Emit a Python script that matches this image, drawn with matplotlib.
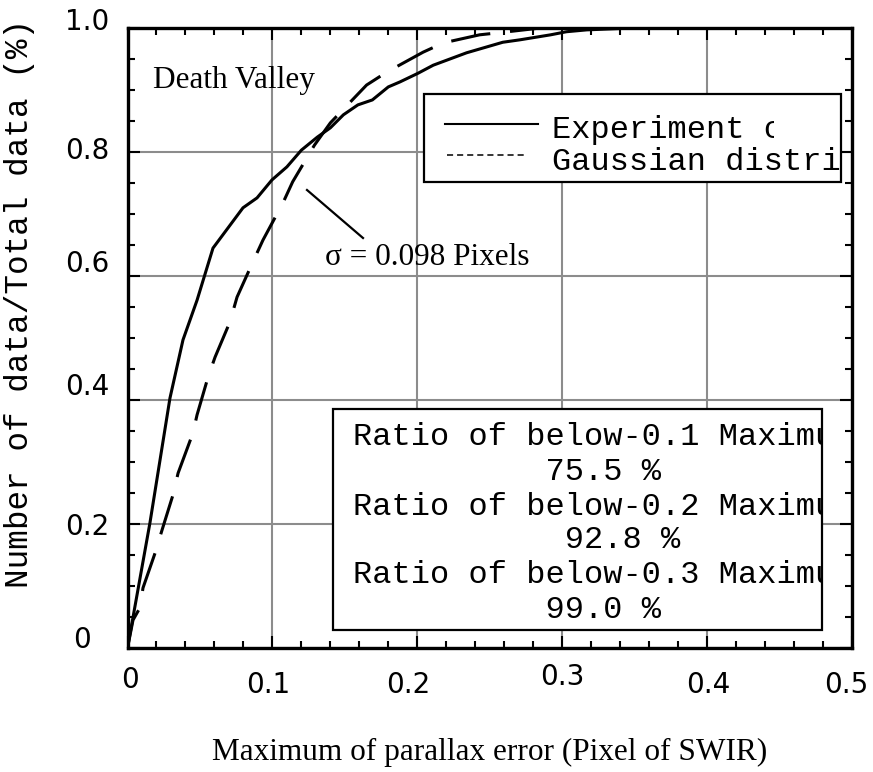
import matplotlib
matplotlib.use('Agg')
import matplotlib.pyplot as plt
from matplotlib.patches import Rectangle
from matplotlib.lines import Line2D
from matplotlib.transforms import Bbox, TransformedBbox
from matplotlib.ticker import MultipleLocator

# ---------------- data ----------------
exp_x = [0, 0.0155, 0.0293, 0.0383, 0.048, 0.059, 0.0797, 0.0894, 0.0997, 0.110,
         0.120, 0.131, 0.140, 0.149, 0.159, 0.169, 0.180, 0.188, 0.2005, 0.211,
         0.234, 0.259, 0.271, 0.292, 0.303, 0.317, 0.349, 0.5]
exp_y = [0, 0.202, 0.403, 0.497, 0.561, 0.645, 0.710, 0.726, 0.755, 0.776,
         0.803, 0.824, 0.839, 0.860, 0.876, 0.884, 0.905, 0.913, 0.927, 0.940,
         0.960, 0.977, 0.981, 0.989, 0.994, 0.997, 1.0, 1.0]

gau_x = [0, 0.0038, 0.0086, 0.0107, 0.019, 0.0238, 0.0314, 0.0349, 0.0452, 0.048,
         0.0556, 0.0604, 0.0707, 0.0756, 0.0866, 0.0935, 0.1073, 0.114, 0.129, 0.140,
         0.165, 0.179, 0.204, 0.218, 0.243, 0.255, 0.285, 0.5]
gau_y = [0, 0.045, 0.065, 0.097, 0.153, 0.190, 0.247, 0.282, 0.347, 0.376,
         0.437, 0.469, 0.526, 0.566, 0.623, 0.658, 0.718, 0.752, 0.811, 0.847,
         0.908, 0.929, 0.961, 0.976, 0.989, 0.992, 1.0, 1.0]

x_ticks = [0, 0.1, 0.2, 0.3, 0.4, 0.5]
x_tick_labels = ['0', '0.1', '0.2', '0.3', '0.4', '0.5']
y_ticks = [0, 0.2, 0.4, 0.6, 0.8, 1.0]
y_tick_labels = ['0', '0.2', '0.4', '0.6', '0.8', '1.0']

legend_labels = ['Experiment curve', 'Gaussian distribution']
thresholds = ['0.1', '0.2', '0.3']
ratios = [75.5, 92.8, 99.0]
sigma = 0.098
site = 'Death Valley'
x_label = 'Maximum of parallax error (Pixel of SWIR)'
y_label = 'Number of data/Total data (%)'

# ---------------- layout ----------------
W, H = 873, 772
fig = plt.figure(figsize=(W / 100, H / 100), dpi=100)
L, R, T, B = 127.5, 852, 28, 648
ax = fig.add_axes([L / W, 1 - B / H, (R - L) / W, (B - T) / H])


def axf(px, py):
    return ((px - L) / (R - L), (B - py) / (B - T))


SANS = 'DejaVu Sans'
SERIF = 'Liberation Serif'
MONO = 'Liberation Mono'

ax.set_xlim(0, 0.5)
ax.set_ylim(0, 1.0)
ax.set_xticks(x_ticks)
ax.set_yticks(y_ticks)
ax.xaxis.set_minor_locator(MultipleLocator(0.02))
ax.yaxis.set_minor_locator(MultipleLocator(0.05))
ax.tick_params(which='both', direction='in', top=True, right=True,
               labelbottom=False, labelleft=False, width=1.5, color='black')
ax.tick_params(which='major', length=8.6)
ax.tick_params(which='minor', length=5)
for s in ax.spines.values():
    s.set_linewidth(2.4)
    s.set_zorder(6)
ax.grid(True, which='major', color='#8c8c8c', lw=1.5, zorder=0)
ax.set_axisbelow(True)

# curves
ax.plot(exp_x, exp_y, color='black', lw=2.2, solid_joinstyle='round', zorder=3)
ax.plot(gau_x, gau_y, color='black', lw=2.2, linestyle=(0, (13, 6.5)),
        dash_capstyle='butt', zorder=3)

# tick labels (manual, to reproduce original placement)
ytl_dx = [-45.5, -40.5, -40.5, -40.5, -40.5, -40.5]
ytl_dy = [0, -11, 5, 4, -7, -2]
for v, lab, dx, dy in zip(y_ticks, y_tick_labels, ytl_dx, ytl_dy):
    ax.annotate(lab, xy=(0, v), xycoords=ax.get_yaxis_transform(),
                xytext=(dx, dy), textcoords='offset pixels',
                ha='center', va='baseline', fontsize=20, family=SANS)
xtl_dx = [2.5, -4, -9, 0, 1, -6]
xtl_dy = [-40, -45, -45, -37, -45, -45]
for v, lab, dx, dy in zip(x_ticks, x_tick_labels, xtl_dx, xtl_dy):
    ax.annotate(lab, xy=(v, 0), xycoords=ax.get_xaxis_transform(),
                xytext=(dx, dy), textcoords='offset pixels',
                ha='center', va='baseline', fontsize=20, family=SANS)

# axis labels
fig.text(490 / W, 1 - 760 / H, x_label, ha='center', va='baseline',
         fontsize=22.5, family=SERIF)
fig.text(20 / W, 1 - 303 / H, y_label, ha='center', va='center',
         rotation=90, fontsize=23.5, family=MONO)

# site label and sigma annotation
ax.text(*axf(153, 88), site, transform=ax.transAxes, ha='left', va='baseline',
        fontsize=22.5, family=SERIF, zorder=5)
ax.text(*axf(325, 265), f'\u03c3 = {sigma} Pixels', transform=ax.transAxes,
        ha='left', va='baseline', fontsize=22.5, family=SERIF, zorder=5)
p1, p2 = axf(307, 190), axf(363, 238)
ax.plot([p1[0], p2[0]], [p1[1], p2[1]], transform=ax.transAxes,
        color='black', lw=1.6, zorder=5)

# legend box
lx0, ly0 = axf(424, 182)
lx1, ly1 = axf(841, 94)
ax.add_patch(Rectangle((lx0, ly0), lx1 - lx0, ly1 - ly0, transform=ax.transAxes,
                       facecolor='white', edgecolor='black', lw=1.6, zorder=4))
a, b = axf(445, 124), axf(538, 124)
ax.add_line(Line2D([a[0], b[0]], [a[1], b[1]], transform=ax.transAxes,
                   color='black', lw=1.5, zorder=5))
a, b = axf(447, 155), axf(525, 155)
ax.add_line(Line2D([a[0], b[0]], [a[1], b[1]], transform=ax.transAxes,
                   color='black', lw=1.1, linestyle=(0, (4, 2.6)),
                   dash_capstyle='butt', zorder=5))
leg_base = [138, 170]
leg_clip = [774, 841]
for lab, yb, xc in zip(legend_labels, leg_base, leg_clip):
    t = ax.text(*axf(552, yb), lab, transform=ax.transAxes, ha='left',
                va='baseline', fontsize=23, family=MONO, zorder=5)
    cx0, cy0 = axf(424, 182)
    cx1, cy1 = axf(xc, 94)
    t.set_clip_box(TransformedBbox(Bbox.from_extents(cx0, cy0, cx1, cy1),
                                   ax.transAxes))
    t.set_clip_on(True)

# ratio box
rx0, ry0 = axf(333, 630)
rx1, ry1 = axf(822, 409)
ax.add_patch(Rectangle((rx0, ry0), rx1 - rx0, ry1 - ry0, transform=ax.transAxes,
                       facecolor='white', edgecolor='black', lw=1.6, zorder=4))
clip = TransformedBbox(Bbox.from_extents(rx0, ry0, rx1, ry1), ax.transAxes)
lines = []
pads = [10, 11, 10]
for thr, r, pad in zip(thresholds, ratios, pads):
    lines.append(f'Ratio of below-{thr} Maximum error')
    lines.append(' ' * pad + f'{r:.1f} %')
bases = [445, 480, 515, 548, 583, 618]
for txt, yb in zip(lines, bases):
    t = ax.text(*axf(353, yb), txt, transform=ax.transAxes, ha='left',
                va='baseline', fontsize=23, family=MONO, zorder=5)
    t.set_clip_box(clip)
    t.set_clip_on(True)

fig.savefig('out.png', dpi=100)
